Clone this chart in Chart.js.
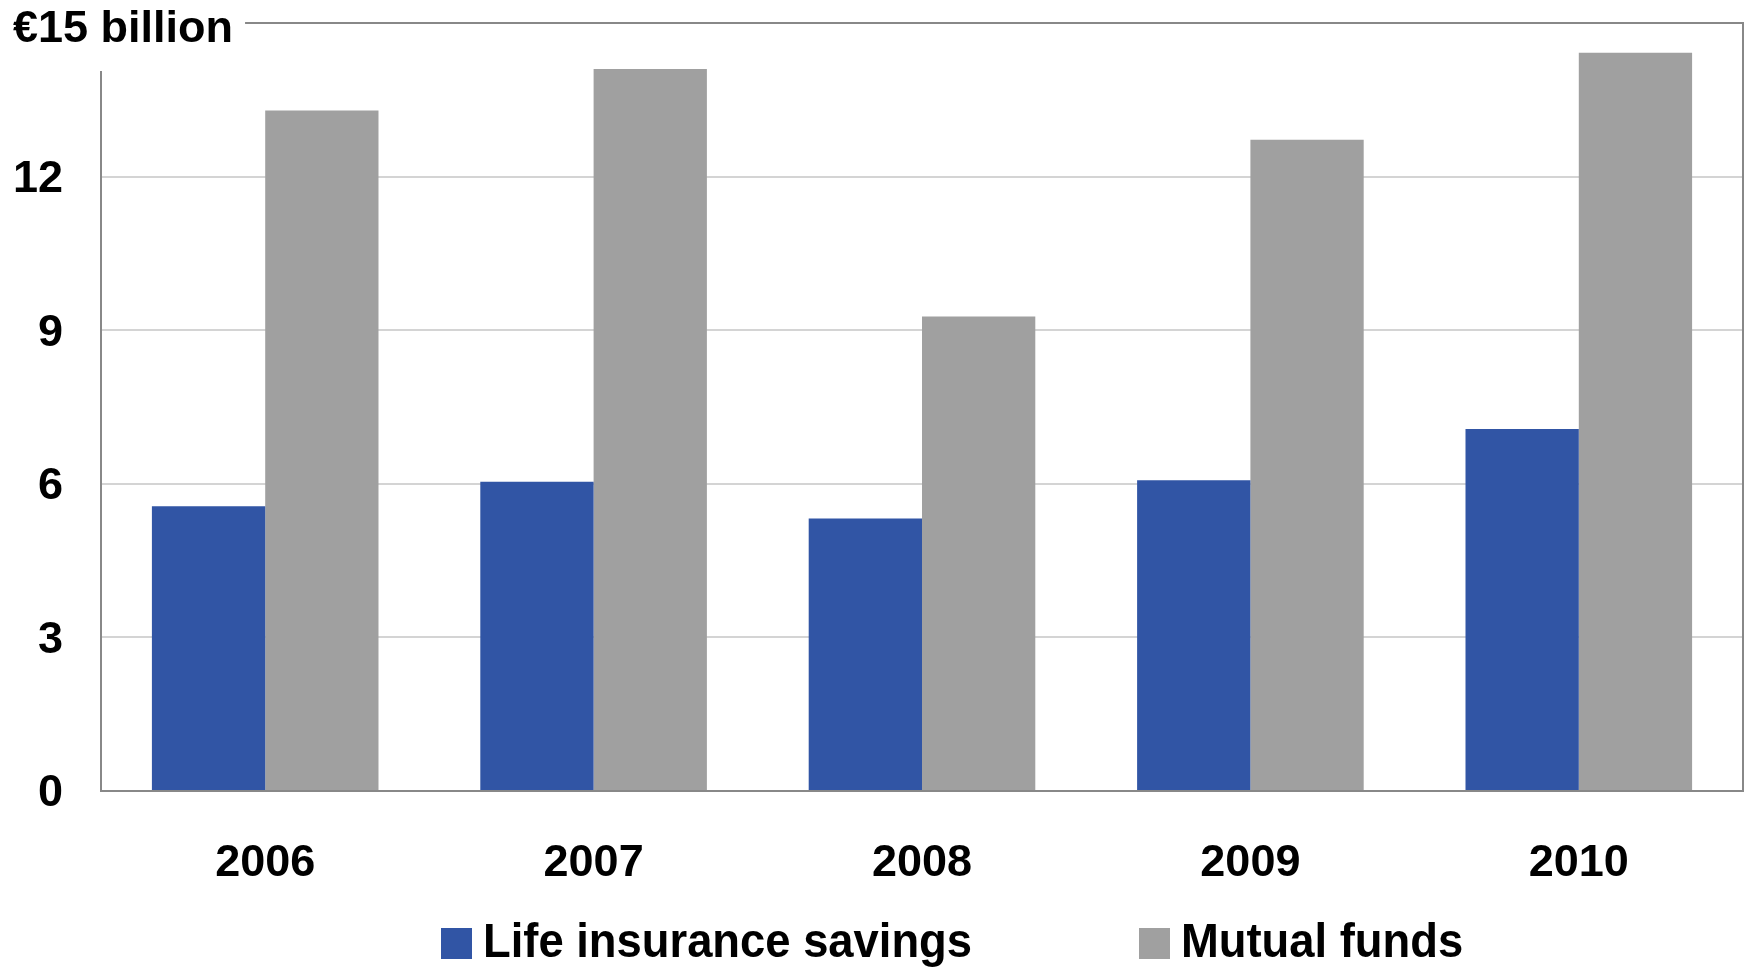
<!DOCTYPE html>
<html>
<head>
<meta charset="utf-8">
<script src="https://cdn.jsdelivr.net/npm/chart.js@4"></script>
<style>
	body { margin: 0; background: #fff; }
	#wrap { position: relative; width: 1753px; height: 969px; }
	#legend {
		position: absolute;
		left: 441px;
		top: 917px;
		display: flex;
		font: bold 48px "Liberation Sans Narrow", "Arial Narrow", "Liberation Sans", sans-serif;
		line-height: 48px;
		color: #000;
		white-space: nowrap;
	}
	.legend-item { display: flex; align-items: flex-start; }
	.legend-item + .legend-item { margin-left: 138px; }
	.item-box { width: 31px; height: 31px; margin-top: 11px; margin-right: 11px; }
	/* squeeze the legend text a little, it is set narrower than the ticks */
	.item-title { display: inline-block; transform: scaleX(0.945); transform-origin: left center; }
</style>
</head>
<body>
<div id="wrap">
	<canvas id="chart"></canvas>
	<div id="legend"></div>
</div>
<script>
const years = ["2006", "2007", "2008", "2009", "2010"];
const lifeInsurance = [5.56, 6.04, 5.32, 6.07, 7.07];
const mutualFunds = [13.29, 14.1, 9.27, 12.72, 14.42];
const yTicks = [0, 3, 6, 9, 12, 15];
const unitLabel = "€15 billion";

const blue = "#3155A5";
const grey = "#A0A0A0";
const frameColor = "#888888";
const tickFont = { family: "'Liberation Sans', Arial, sans-serif", size: 45, weight: "bold" };

// frame lines and the unit label that sits in place of the top tick
const frame = {
	id: "frame",
	afterDatasetsDraw: (chart) => {
		const { ctx, chartArea } = chart;
		const y = chart.scales.y;
		const top = y.getPixelForValue(15);
		const bottom = y.getPixelForValue(0);

		ctx.save();
		ctx.font = `bold ${tickFont.size}px ${tickFont.family}`;
		ctx.fillStyle = "#000";
		ctx.textBaseline = "alphabetic";
		ctx.fillText(unitLabel, 13, top + 19);
		const textEnd = 13 + ctx.measureText(unitLabel).width;

		ctx.strokeStyle = frameColor;
		ctx.lineWidth = 2;
		ctx.beginPath();
		ctx.moveTo(textEnd + 12, top);
		ctx.lineTo(chartArea.right, top);
		ctx.lineTo(chartArea.right, bottom);
		ctx.lineTo(chartArea.left, bottom);
		ctx.lineTo(chartArea.left, top + 48);
		ctx.stroke();
		ctx.restore();
	},
};

const ctx = document.getElementById("chart").getContext("2d");

window.chart = new Chart(ctx, {
	type: "bar",

	data: {
		labels: years,
		datasets: [
			{ label: "Life insurance savings", data: lifeInsurance, backgroundColor: blue },
			{ label: "Mutual funds", data: mutualFunds, backgroundColor: grey },
		],
	},

	options: {
		responsive: true,
		maintainAspectRatio: false,
		animation: false,
		events: [],
		layout: { padding: { left: 0, right: 10, top: 23, bottom: 0 } },
		datasets: {
			bar: { categoryPercentage: 0.69, barPercentage: 1.0 },
		},
		plugins: {
			legend: { display: false },
			tooltip: { enabled: false },
		},
		scales: {
			x: {
				grid: { display: false, drawTicks: false },
				border: { display: false },
				ticks: { color: "#000", font: tickFont, padding: 46, maxRotation: 0 },
				afterFit: (scale) => {
					scale.height = 178;
					scale.paddingLeft = 0;
					scale.paddingRight = 0;
				},
			},
			y: {
				min: 0,
				max: 15,
				afterBuildTicks: (scale) => {
					scale.ticks = yTicks.map((value) => ({ value }));
				},
				grid: {
					drawTicks: false,
					lineWidth: 2,
					color: (c) => (c.tick && (c.tick.value === 0 || c.tick.value === 15) ? "rgba(0,0,0,0)" : "#D4D4D4"),
				},
				border: { display: false },
				ticks: {
					color: "#000",
					font: tickFont,
					padding: 38,
					labelOffset: 3,
					callback: (value) => (value === 15 ? "" : value),
				},
				afterFit: (scale) => {
					scale.width = 101;
					scale.paddingTop = 0;
					scale.paddingBottom = 0;
				},
			},
		},
	},
	plugins: [frame],
});

// legend built from the chart's own datasets
const legend = document.getElementById("legend");
legend.innerHTML = window.chart.data.datasets
	.map(
		(ds) => `<div class="legend-item"><span class="item-box" style="background-color:${ds.backgroundColor}"></span><span class="item-title">${ds.label}</span></div>`
	)
	.join("");
</script>
</body>
</html>
